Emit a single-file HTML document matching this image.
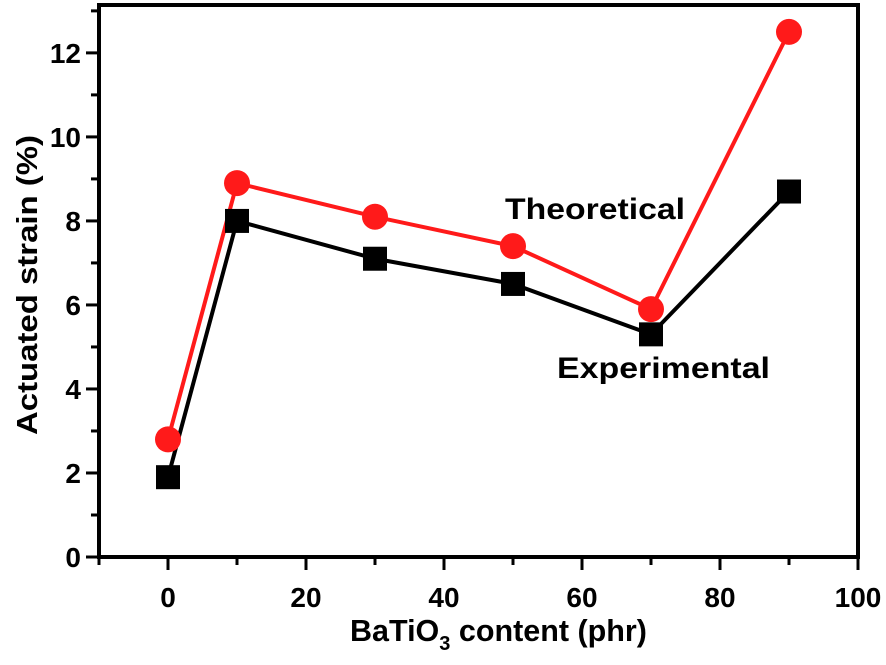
<!DOCTYPE html>
<html><head><meta charset="utf-8"><style>
body{margin:0;background:#fff}
svg{display:block;font-family:"Liberation Sans",Arial,sans-serif;font-weight:bold}
</style></head><body>
<svg id="chart" width="886" height="665" viewBox="0 0 886 665" xmlns="http://www.w3.org/2000/svg">
<g id="axes"></g><g id="series"></g>
<text x="505" y="219" font-size="30" textLength="180" lengthAdjust="spacingAndGlyphs">Theoretical</text>
<text x="557" y="378" font-size="30" textLength="213" lengthAdjust="spacingAndGlyphs">Experimental</text>
<text x="350" y="641" font-size="30.5">BaTiO<tspan font-size="20" dy="9">3</tspan><tspan dy="-9"> content (phr)</tspan></text>
<text transform="translate(37,435) rotate(-90)" font-size="29" textLength="300" lengthAdjust="spacingAndGlyphs">Actuated strain (%)</text>
</svg>
<script>
const xCats=[0,10,30,50,70,90];
const experimental=[1.9,8.0,7.1,6.5,5.3,8.7];
const theoretical=[2.8,8.9,8.1,7.4,5.9,12.5];
const xTicks=[0,20,40,60,80,100];
const yTicks=[0,2,4,6,8,10,12];
const L=99,R=858,T=5,B=557,xMin=-10,xMax=100,yMin=0,yMax=13.14;
const sx=v=>L+(v-xMin)/(xMax-xMin)*(R-L);
const sy=v=>B-(v-yMin)/(yMax-yMin)*(B-T);
const NS="http://www.w3.org/2000/svg";
function mk(t,a,p){const e=document.createElementNS(NS,t);for(const k in a)e.setAttribute(k,a[k]);p.appendChild(e);return e;}
const ax=document.getElementById('axes'),se=document.getElementById('series');
const fr=mk('rect',{x:L,y:T,width:R-L,height:B-T,fill:'none',stroke:'#000','stroke-width':4},ax);


for(let v=-10;v<=100;v+=10){const x=sx(v);const l=mk('line',{x1:x,x2:x,y1:B,y2:B+(v%20===0?13:8),stroke:'#000','stroke-width':3},ax);

}
xTicks.forEach(v=>{const t=mk('text',{x:sx(v),y:B+50,'font-size':28,'text-anchor':'middle'},ax);t.textContent=v;

});
for(let v=0;v<=13;v+=1){const y=sy(v);const l=mk('line',{x1:L,x2:L-(v%2===0?13:8),y1:y,y2:y,stroke:'#000','stroke-width':3},ax);

}
yTicks.forEach(v=>{const t=mk('text',{x:L-18,y:sy(v)+10,'font-size':28,'text-anchor':'end'},ax);t.textContent=v;

});
function line(data,color,name){const p=mk('polyline',{points:data.map((v,i)=>sx(xCats[i])+','+sy(v)).join(' '),fill:'none',stroke:color,'stroke-width':4},se);

}
line(experimental,'#000','experimental-line');
line(theoretical,'#ff1a1a','theoretical-line');
experimental.forEach((v,i)=>{const r=mk('rect',{x:sx(xCats[i])-12,y:sy(v)-12,width:24,height:24,fill:'#000'},se);

});
theoretical.forEach((v,i)=>{const c=mk('circle',{cx:sx(xCats[i]),cy:sy(v),r:13,fill:'#ff1a1a'},se);

});
</script>
</body></html>
